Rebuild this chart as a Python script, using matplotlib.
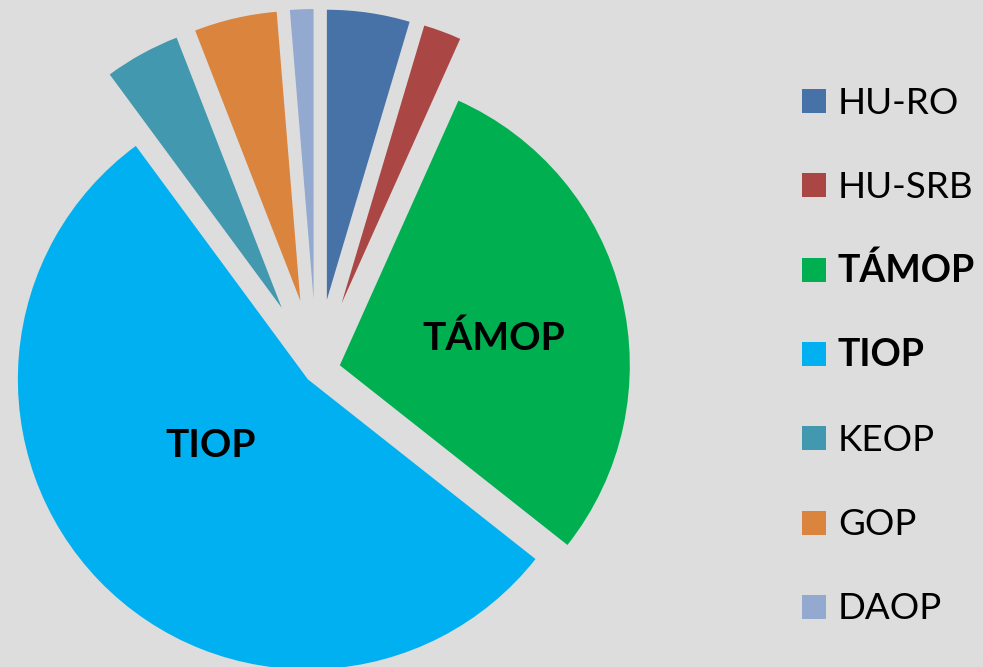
import matplotlib
matplotlib.use('Agg')
import matplotlib.pyplot as plt
from matplotlib.patches import Rectangle

# ---- data ----
categories = ['HU-RO', 'HU-SRB', 'TÁMOP', 'TIOP', 'KEOP', 'GOP', 'DAOP']
shares = [4.6, 2.1, 28.9, 54.2, 4.2, 4.6, 1.3]
colors = ['#4672A7', '#AA4643', '#00AF50', '#00B0F0', '#4298AF', '#DB843D', '#93A9CF']
bold_labels = ['TÁMOP', 'TIOP']

BG = '#DDDDDD'
W, H = 983, 667
FONT = 'Lato'
FS = 26.5
FSB_LEG = 27
FSB = 28

fig = plt.figure(figsize=(W / 100, H / 100), dpi=100, facecolor=BG)
ax = fig.add_axes([0, 0, 1, 1])
ax.set_facecolor(BG)

R = 290
center = (316.5, H - 371)
explode = [72, 72, 24, 12, 72, 72, 72]
wedges, _ = ax.pie(shares, colors=colors, startangle=90, counterclock=False,
                   radius=R, center=center, explode=explode,
                   wedgeprops=dict(linewidth=0))
ax.set_xlim(0, W)
ax.set_ylim(0, H)
ax.set_aspect('equal')
ax.axis('off')

# in-slice labels (offsets from the wedge apex)
label_offsets = {'TÁMOP': (154, 15), 'TIOP': (-97, -78)}
for w, cat in zip(wedges, categories):
    if cat in label_offsets:
        dx, dy = label_offsets[cat]
        cx, cy = w.center
        ax.text(cx + dx, cy + dy, cat, ha='center', va='baseline',
                fontsize=FSB, fontweight='bold', fontfamily=FONT, color='black')

# legend (manual)
row0, step = 101, 84.33
for i, (cat, col) in enumerate(zip(categories, colors)):
    yc = row0 + i * step
    ax.add_patch(Rectangle((802, H - yc - 12), 24, 24, facecolor=col,
                           edgecolor='none', clip_on=False))
    is_bold = cat in bold_labels
    ax.text(838, H - (yc + 12.5), cat, ha='left', va='baseline',
            fontsize=FSB_LEG if is_bold else FS, fontfamily=FONT, color='black',
            fontweight='bold' if is_bold else 'normal')

fig.savefig('out.png', dpi=100, facecolor=BG)
